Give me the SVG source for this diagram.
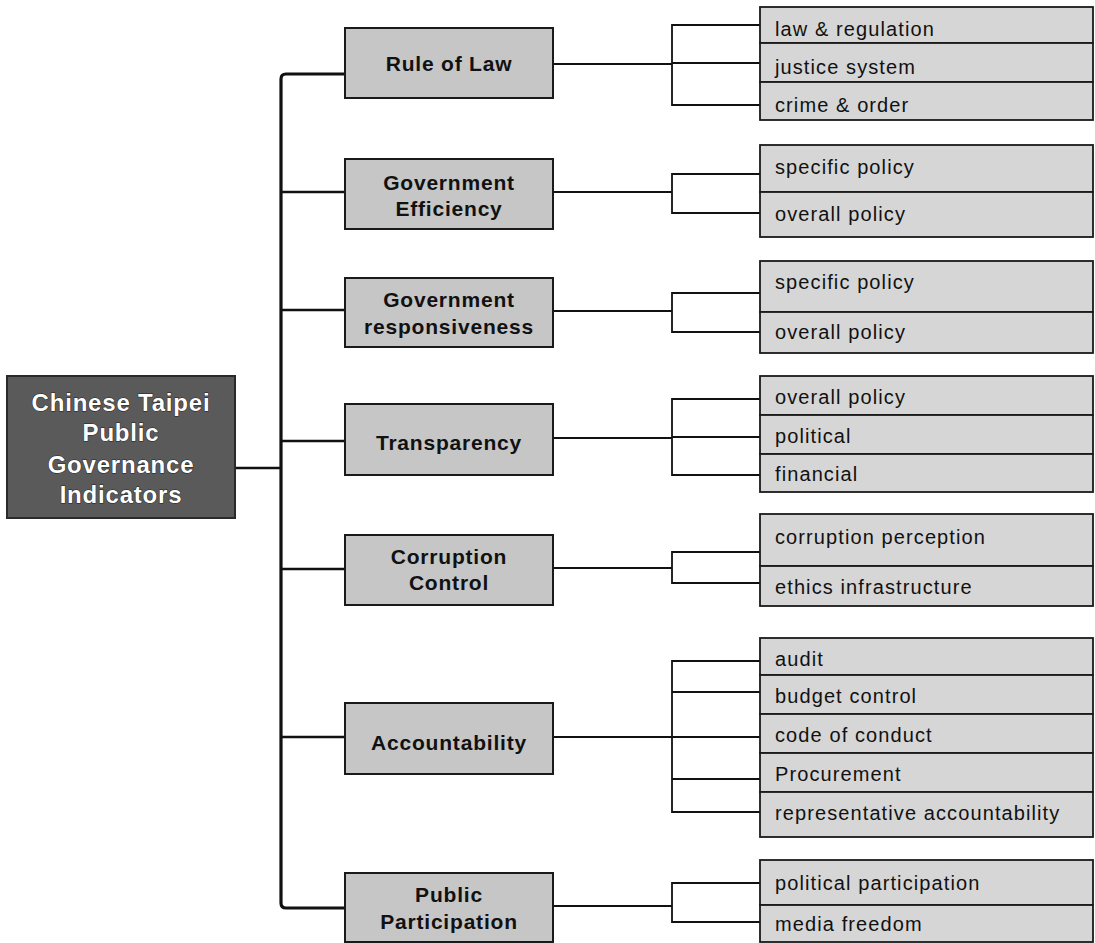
<svg xmlns="http://www.w3.org/2000/svg" width="1095" height="943" viewBox="0 0 1095 943">
<style>
.bg{fill:#ffffff}
.root{fill:#5a5a5a;stroke:#2a2a2a;stroke-width:2}
.mid{fill:#c6c6c6;stroke:#1a1a1a;stroke-width:2}
.leaf{fill:#d6d6d6;stroke:#1a1a1a;stroke-width:1.8}
.rt{font-family:"Liberation Sans",Arial,sans-serif;font-weight:bold;font-size:24px;letter-spacing:0.8px;fill:#ffffff;stroke:#222;stroke-width:1;paint-order:stroke;text-anchor:middle}
.mt{font-family:"Liberation Sans",Arial,sans-serif;font-weight:bold;font-size:21px;letter-spacing:0.8px;fill:#111;text-anchor:middle}
.lt{font-family:"Liberation Sans",Arial,sans-serif;font-size:20px;letter-spacing:1.1px;fill:#111}
.trunk{fill:none;stroke:#111;stroke-width:3.2;stroke-linejoin:round}
.c1{fill:none;stroke:#111;stroke-width:2.6}
.c2{fill:none;stroke:#111;stroke-width:1.8}
</style>
<rect class="bg" x="0" y="0" width="1095" height="943"/>

<g id="connectors">
  <!-- root to trunk -->
  <path class="c1" d="M235,468 H281"/>
  <!-- trunk -->
  <path class="trunk" d="M345,74 H286 Q281,74 281,79 V903 Q281,908 286,908 H345"/>
  <path class="c1" d="M281,192 H345 M281,310 H345 M281,441 H345 M281,569 H345 M281,737 H345"/>
  <!-- mid to brackets -->
  <path class="c2" d="M553,64 H672 M553,192 H672 M553,311 H672 M553,438 H672 M553,568 H672 M553,737 H672 M553,906 H672"/>
  <!-- brackets -->
  <path class="c2" d="M760,25 H672 V105 H760 M672,63 H760"/>
  <path class="c2" d="M760,174 H672 V213 H760"/>
  <path class="c2" d="M760,293 H672 V332 H760"/>
  <path class="c2" d="M760,399 H672 V475 H760 M672,437 H760"/>
  <path class="c2" d="M760,552 H672 V583 H760"/>
  <path class="c2" d="M760,661 H672 V812 H760 M672,692 H760 M672,737 H760 M672,779 H760"/>
  <path class="c2" d="M760,883 H672 V922 H760"/>
</g>

<g id="root">
  <rect class="root" x="7" y="376" width="228" height="142"/>
  <text class="rt" x="121" y="411">Chinese Taipei</text>
  <text class="rt" x="121" y="441">Public</text>
  <text class="rt" x="121" y="473">Governance</text>
  <text class="rt" x="121" y="503">Indicators</text>
</g>

<g id="rule-of-law">
  <rect class="mid" x="345" y="28" width="208" height="70"/>
  <text class="mt" x="449" y="71">Rule of Law</text>
</g>
<g id="government-efficiency">
  <rect class="mid" x="345" y="159" width="208" height="70"/>
  <text class="mt" x="449" y="190">Government</text>
  <text class="mt" x="449" y="216">Efficiency</text>
</g>
<g id="government-responsiveness">
  <rect class="mid" x="345" y="278" width="208" height="69"/>
  <text class="mt" x="449" y="307">Government</text>
  <text class="mt" x="449" y="334">responsiveness</text>
</g>
<g id="transparency">
  <rect class="mid" x="345" y="404" width="208" height="71"/>
  <text class="mt" x="449" y="450">Transparency</text>
</g>
<g id="corruption-control">
  <rect class="mid" x="345" y="535" width="208" height="70"/>
  <text class="mt" x="449" y="564">Corruption</text>
  <text class="mt" x="449" y="590">Control</text>
</g>
<g id="accountability">
  <rect class="mid" x="345" y="703" width="208" height="71"/>
  <text class="mt" x="449" y="750">Accountability</text>
</g>
<g id="public-participation">
  <rect class="mid" x="345" y="873" width="208" height="69"/>
  <text class="mt" x="449" y="902">Public</text>
  <text class="mt" x="449" y="929">Participation</text>
</g>

<g id="leaf-law-regulation"><rect class="leaf" x="760" y="7" width="333" height="36"/><text class="lt" x="775" y="36">law &amp; regulation</text></g>
<g id="leaf-justice-system"><rect class="leaf" x="760" y="43" width="333" height="39"/><text class="lt" x="775" y="74">justice system</text></g>
<g id="leaf-crime-order"><rect class="leaf" x="760" y="82" width="333" height="38"/><text class="lt" x="775" y="112">crime &amp; order</text></g>

<g id="leaf-eff-specific"><rect class="leaf" x="760" y="145" width="333" height="47"/><text class="lt" x="775" y="174">specific policy</text></g>
<g id="leaf-eff-overall"><rect class="leaf" x="760" y="192" width="333" height="45"/><text class="lt" x="775" y="221">overall policy</text></g>

<g id="leaf-resp-specific"><rect class="leaf" x="760" y="261" width="333" height="51"/><text class="lt" x="775" y="289">specific policy</text></g>
<g id="leaf-resp-overall"><rect class="leaf" x="760" y="312" width="333" height="41"/><text class="lt" x="775" y="339">overall policy</text></g>

<g id="leaf-tr-overall"><rect class="leaf" x="760" y="376" width="333" height="39"/><text class="lt" x="775" y="404">overall policy</text></g>
<g id="leaf-tr-political"><rect class="leaf" x="760" y="415" width="333" height="39"/><text class="lt" x="775" y="443">political</text></g>
<g id="leaf-tr-financial"><rect class="leaf" x="760" y="454" width="333" height="38"/><text class="lt" x="775" y="481">financial</text></g>

<g id="leaf-corruption-perception"><rect class="leaf" x="760" y="514" width="333" height="52"/><text class="lt" x="775" y="544">corruption perception</text></g>
<g id="leaf-ethics-infrastructure"><rect class="leaf" x="760" y="566" width="333" height="40"/><text class="lt" x="775" y="594">ethics infrastructure</text></g>

<g id="leaf-audit"><rect class="leaf" x="760" y="638" width="333" height="37"/><text class="lt" x="775" y="666">audit</text></g>
<g id="leaf-budget-control"><rect class="leaf" x="760" y="675" width="333" height="39"/><text class="lt" x="775" y="703">budget control</text></g>
<g id="leaf-code-of-conduct"><rect class="leaf" x="760" y="714" width="333" height="39"/><text class="lt" x="775" y="742">code of conduct</text></g>
<g id="leaf-procurement"><rect class="leaf" x="760" y="753" width="333" height="39"/><text class="lt" x="775" y="781">Procurement</text></g>
<g id="leaf-representative-accountability"><rect class="leaf" x="760" y="792" width="333" height="45"/><text class="lt" x="775" y="820">representative accountability</text></g>

<g id="leaf-political-participation"><rect class="leaf" x="760" y="860" width="333" height="45"/><text class="lt" x="775" y="890">political participation</text></g>
<g id="leaf-media-freedom"><rect class="leaf" x="760" y="905" width="333" height="37"/><text class="lt" x="775" y="931">media freedom</text></g>
</svg>
